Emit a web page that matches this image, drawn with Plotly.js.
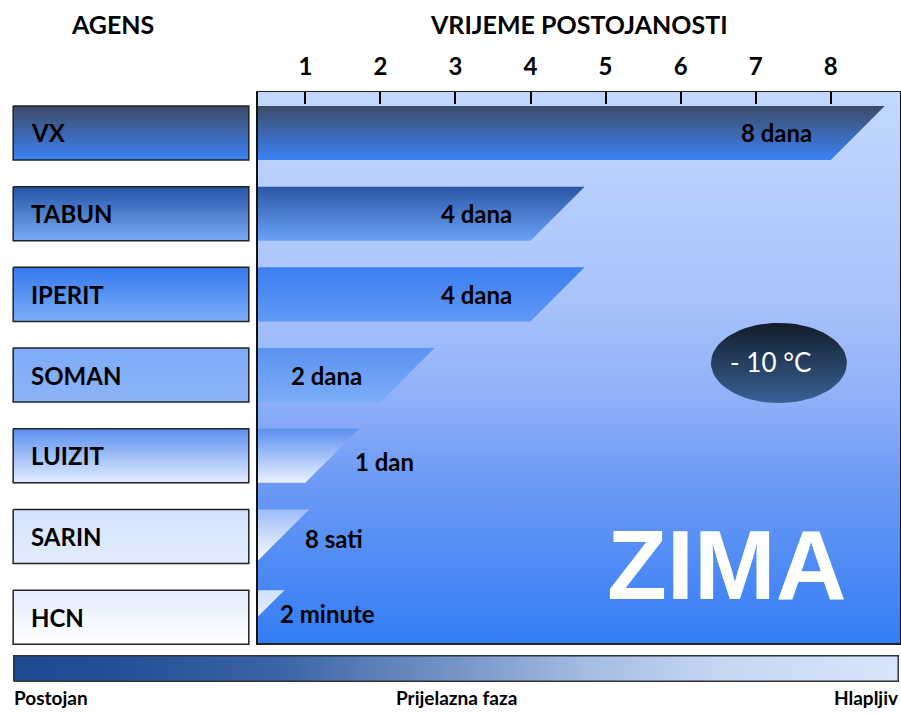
<!DOCTYPE html>
<html>
<head>
<meta charset="utf-8">
<script src="https://cdn.plot.ly/plotly-3.0.1.min.js"></script>
<style>
  html, body { margin: 0; padding: 0; background: #fff; }
  #chart { width: 901px; height: 713px; }
</style>
</head>
<body>
<div id="chart"></div>
<script>
// podaci - vrijeme postojanosti bojnih otrova (zima)
const agents = ['VX', 'TABUN', 'IPERIT', 'SOMAN', 'LUIZIT', 'SARIN', 'HCN'];
const durationDays = [8, 4, 4, 2, 1, 0.33, 0.0014];
const durationLabels = ['8 dana', '4 dana', '4 dana', '2 dana', '1 dan', '8 sati', '2 minute'];
const dayTicks = [1, 2, 3, 4, 5, 6, 7, 8];
const scaleLabels = ['Postojan', 'Prijelazna faza', 'Hlapljiv'];

// boje (gore -> dolje)
const barTop = ['#3d4b68', '#2a57a5', '#3a7ef0', '#5b93f2', '#5a8ff0', '#9dbdf9', '#d2e2fd'];
const barBottom = ['#3b82f6', '#6aa1f6', '#6199f5', '#7cacf7', '#eaf2ff', '#ffffff', '#f2f7ff'];
const boxTop = ['#3e4a66', '#2455a6', '#3479ee', '#7eaaf6', '#5b8ff0', '#d3e2fd', '#e2ecfd'];
const boxBottom = ['#3b83f6', '#7aabf6', '#7eadf7', '#8cb5f8', '#e4eeff', '#e3edfe', '#ffffff'];
const labelShift = [0, 0, 0, 0, -6, -2, 4];

const X0 = 0.369, X1 = 8.923;     // raspon osi x (dani)
const Y0 = -0.508, Y1 = 6.32;     // raspon osi y (redovi)
const H = 0.335;                  // pola visine trake
const TAIL = 0.72;                // kosi zavrsetak trake

const FONT = 'Lato, "Open Sans", sans-serif';
const traces = [];

// os y je obrnuta, pa gradijent ide odozdo prema gore
function vgrad(stops) {
    return { type: 'vertical', colorscale: stops.map(([s, c]) => [1 - s, c]).reverse() };
}

// pozadina grafa
traces.push({
    x: [X0, X1, X1, X0, X0], y: [Y0, Y0, Y1, Y1, Y0],
    mode: 'lines', fill: 'toself', line: { width: 0 }, hoverinfo: 'skip',
    fillgradient: vgrad([[0, '#c2d8fe'], [0.12, '#bbd2fd'], [0.38, '#a8c2fb'], [0.56, '#8fb0f8'],
                         [0.7, '#6e9bf5'], [1, '#347df5']])
});

// trake
agents.forEach((a, i) => {
    const d = durationDays[i];
    traces.push({
        x: [0, d + TAIL, d, 0, 0],
        y: [i - H, i - H, i + H, i + H, i - H],
        mode: 'lines', fill: 'toself', line: { width: 0 }, hoverinfo: 'skip',
        fillgradient: vgrad([[0, barTop[i]], [1, barBottom[i]]])
    });
});

// kutije s nazivima agensa
agents.forEach((a, i) => {
    traces.push({
        x: [0, 1, 1, 0, 0],
        y: [i - H, i - H, i + H, i + H, i - H],
        xaxis: 'x2', yaxis: 'y2',
        mode: 'lines', fill: 'toself', line: { width: 1.5, color: '#222' }, hoverinfo: 'skip',
        fillgradient: vgrad([[0, boxTop[i]], [1, boxBottom[i]]])
    });
});

// elipsa s temperaturom
const ex = [], ey = [];
for (let k = 0; k <= 72; k++) {
    const t = k / 72 * 2 * Math.PI;
    ex.push(7.31 + 0.906 * Math.cos(t));
    ey.push(2.85 + 0.496 * Math.sin(t));
}
traces.push({
    x: ex, y: ey, mode: 'lines', fill: 'toself', line: { width: 0 }, hoverinfo: 'skip',
    fillgradient: vgrad([[0, '#131c2a'], [1, '#386296']])
});

// skala postojanosti
traces.push({
    x: [0, 1, 1, 0, 0], y: [0, 0, 1, 1, 0],
    xaxis: 'x3', yaxis: 'y3',
    mode: 'lines', fill: 'toself', line: { width: 1.5, color: '#333' }, hoverinfo: 'skip',
    fillgradient: {
        type: 'horizontal',
        colorscale: [[0, '#1d4a90'], [0.1, '#214e94'], [0.3, '#3b64a6'], [0.5, '#7595c7'],
                     [0.65, '#a5bde3'], [0.8, '#c6d7f3'], [1, '#d8e6fb']]
    }
});

const annotations = [];
const boldFont = (size, color) => ({ family: FONT, size: size, color: color || '#000', weight: 'bold' });

agents.forEach((a, i) => {
    annotations.push({
        xref: 'x2', yref: 'y2', x: 0.067, y: i, text: a, showarrow: false,
        xanchor: 'left', yanchor: 'middle', font: boldFont(24)
    });
    const d = durationDays[i];
    const inside = d >= 2;
    annotations.push({
        xref: 'x', yref: 'y', x: inside ? d - 0.22 : d + TAIL - 0.08, y: i,
        text: durationLabels[i], showarrow: false,
        xanchor: inside ? 'right' : 'left', yanchor: 'middle',
        yshift: labelShift[i], font: boldFont(24)
    });
});

annotations.push(
    { xref: 'paper', yref: 'paper', x: 0.1137, y: 1.115, text: 'AGENS', showarrow: false,
      xanchor: 'center', yanchor: 'middle', font: boldFont(25) },
    { xref: 'paper', yref: 'paper', x: 0.6385, y: 1.115, text: 'VRIJEME POSTOJANOSTI', showarrow: false,
      xanchor: 'center', yanchor: 'middle', font: boldFont(25) },
    { xref: 'x', yref: 'y', x: 7.2, y: 2.84, text: '- 10 °C', showarrow: false,
      xanchor: 'center', yanchor: 'middle', font: { family: FONT, size: 26, color: '#fff' } },
    { xref: 'x', yref: 'y', x: 6.62, y: 5.35, text: 'ZIMA', showarrow: false,
      xanchor: 'center', yanchor: 'middle',
      font: { family: '"Liberation Sans", Arial, sans-serif', size: 98, color: '#fff', weight: 'bold' } }
);

const anchors = ['left', 'center', 'right'];
scaleLabels.forEach((s, k) => {
    annotations.push({
        xref: 'paper', yref: 'paper', x: k / 2, y: -0.027, text: s, showarrow: false,
        xanchor: anchors[k], yanchor: 'middle', font: boldFont(19)
    });
});

const layout = {
    width: 901, height: 713,
    margin: { l: 12, r: 1, t: 92, b: 31 },
    paper_bgcolor: '#fff', plot_bgcolor: 'rgba(0,0,0,0)',
    showlegend: false,
    xaxis: {
        domain: [0.277, 1], range: [X0, X1], side: 'top',
        tickvals: dayTicks, ticktext: dayTicks.map(String),
        ticks: 'inside', ticklen: 12, tickwidth: 2, tickcolor: '#000',
        ticklabelstandoff: 6,
        tickfont: boldFont(24), showgrid: false, zeroline: false,
        showline: true, linecolor: '#222', linewidth: 1.5, mirror: true, fixedrange: true
    },
    yaxis: {
        domain: [0.0661, 1], range: [Y1, Y0], showticklabels: false, ticks: '',
        showgrid: false, zeroline: false,
        showline: true, linecolor: '#111', linewidth: 2, mirror: true, fixedrange: true
    },
    // ista skala kao yaxis, samo malo produžena prema dolje da se vidi rub kutije HCN
    yaxis2: {
        domain: [0.0661 - 4 / 590, 1], range: [Y1 + 4 / 80.7, Y0], anchor: 'x2',
        visible: false, fixedrange: true
    },
    xaxis2: {
        domain: [0, 0.268], range: [-0.005, 1.005], anchor: 'y2', visible: false, fixedrange: true
    },
    xaxis3: {
        domain: [0, 1], range: [-0.002, 1.002], anchor: 'y3', visible: false, fixedrange: true
    },
    yaxis3: {
        domain: [0, 0.0458], range: [-0.03, 1.03], anchor: 'x3', visible: false, fixedrange: true
    },
    annotations: annotations
};

Plotly.newPlot('chart', traces, layout, { displayModeBar: false, staticPlot: true });
</script>
</body>
</html>
